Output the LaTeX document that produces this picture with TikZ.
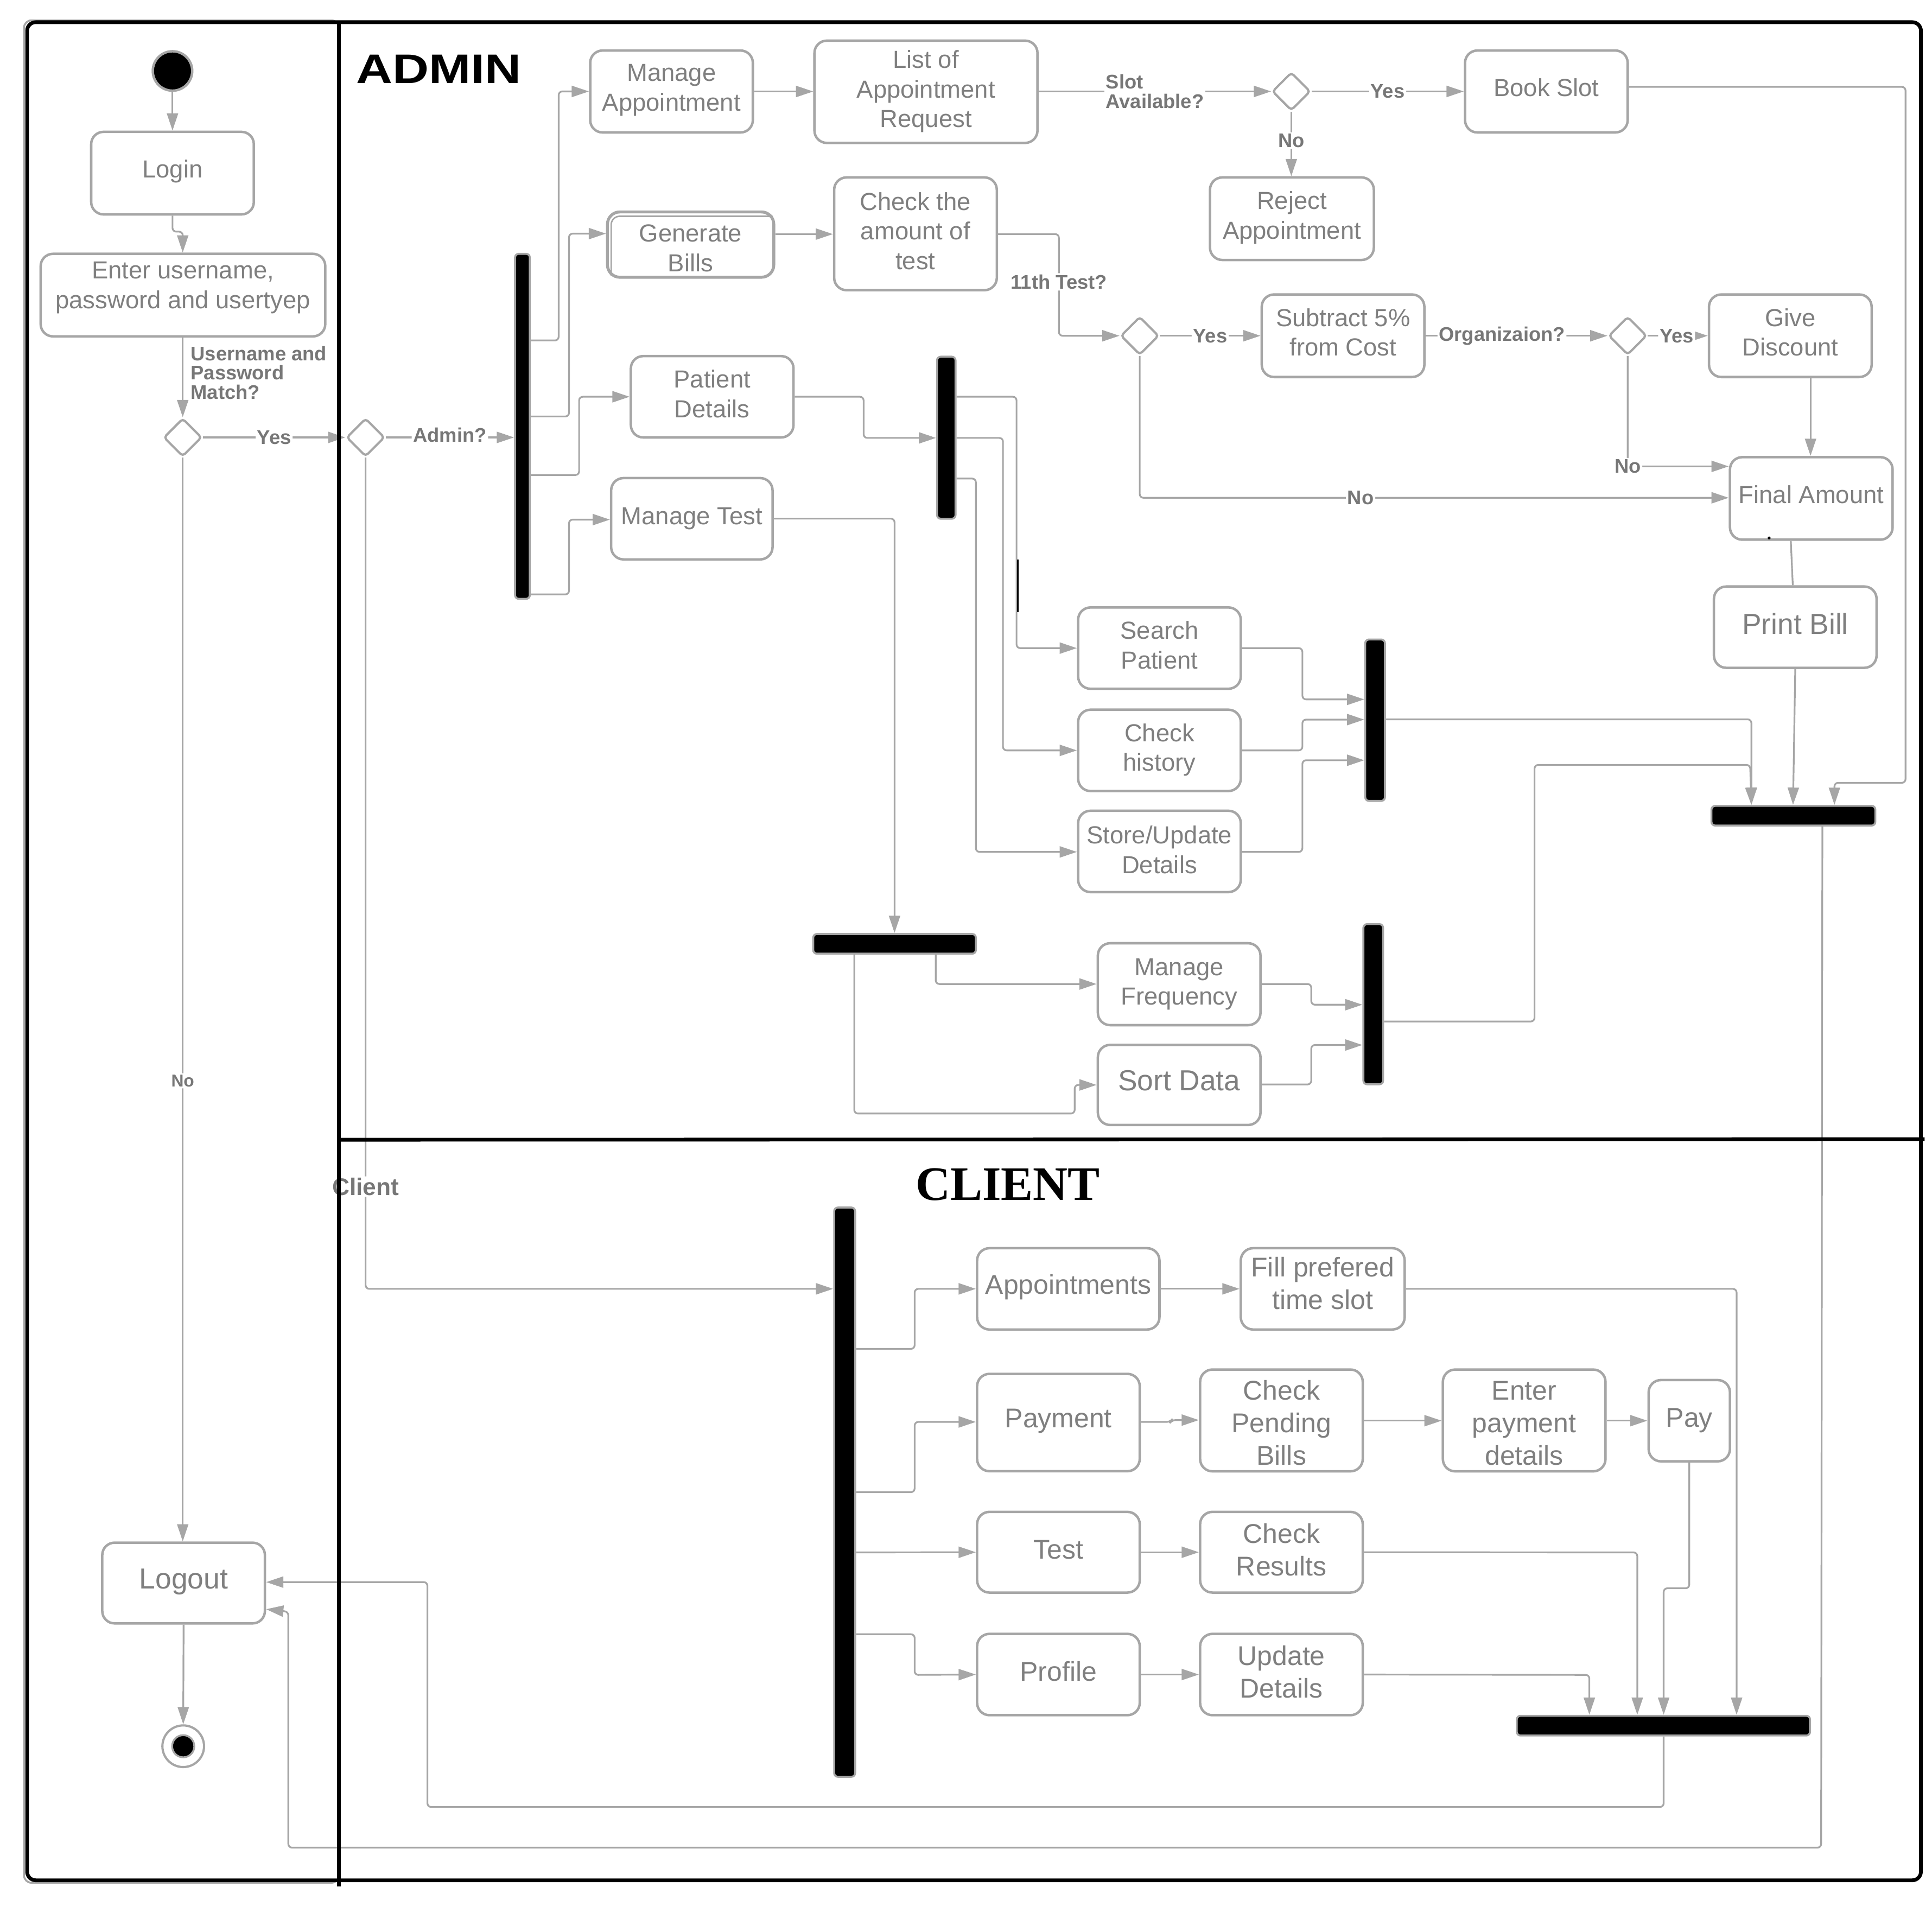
\documentclass[tikz,border=0pt]{standalone}
\usepackage{fontspec}
\setmainfont{Liberation Sans}
\newfontfamily\admintitle[FakeStretch=1.22]{Liberation Sans}
\newfontfamily\clienttitle{Liberation Serif}
\usetikzlibrary{arrows.meta,shapes.geometric,calc}

\definecolor{linegray}{HTML}{A6A6A6}
\definecolor{boxgray}{HTML}{A6A6A6}
\definecolor{txtgray}{HTML}{7F7F7F}
\definecolor{lblgray}{HTML}{777777}

% box text: centred lines, nudged vertically by the optional amount
\newcommand{\bt}[2][0pt]{\raisebox{#1}[\height][\depth]{\begin{tabular}{@{}c@{}}#2\end{tabular}}}

\begin{document}
\begin{tikzpicture}[x=1pt,y=-1pt,
  box/.style={draw=boxgray, line width=2pt, rounded corners=10pt, text=txtgray,
    align=center, inner sep=0pt, font=\fontsize{20}{24}\selectfont},
  bigbox/.style={box, font=\fontsize{23.5}{28}\selectfont},
  cbox/.style={box, font=\fontsize{22}{26.4}\selectfont},
  bar/.style={draw=boxgray, fill=black, line width=1.6pt, rounded corners=3pt, inner sep=0pt},
  dec/.style={diamond, draw=boxgray, line width=1.8pt, fill=white, inner sep=0pt,
    minimum width=31pt, minimum height=31pt, rounded corners=2.5pt},
  conn/.style={draw=linegray, line width=1.4pt, rounded corners=3pt,
    -{Triangle[length=14pt,width=9pt]}},
  plain/.style={draw=linegray, line width=1.4pt},
  lbl/.style={fill=white, text=lblgray, font=\bfseries\fontsize{16}{15.7}\selectfont,
    inner sep=1.2pt, align=left},
  clbl/.style={lbl, font=\bfseries\fontsize{19.5}{22}\selectfont},
]
\useasboundingbox (0,0) rectangle (1568,1557.4);
\fill[white] (0,0) rectangle (1568,1557.4);

% ---------- lane outlines ----------
\draw[boxgray, line width=1.5pt, rounded corners=6pt] (19.5,16.5) rectangle (275,1528);

% ---------- start / login lane ----------
\node[circle, fill=black, draw=boxgray, line width=2pt, minimum size=32pt, inner sep=0pt] (start) at (140,57.6) {};
\node[box, minimum width=132pt, minimum height=67pt] (login) at (140,140.5) {\bt[1pt]{Login}};
\node[box, minimum width=231pt, minimum height=67pt] (enter) at (148.5,239.5) {\bt[6pt]{Enter username,\\password and usertyep}};
\node[dec] (d1) at (148.3,355) {};
\node[dec] (d2) at (296.7,355) {};
\node[bigbox, minimum width=132pt, minimum height=65.5pt] (logout) at (149,1284.75) {\bt[1pt]{Logout}};
\node[circle, draw=boxgray, line width=1.8pt, minimum size=33.8pt, inner sep=0pt] (endc) at (148.7,1417.2) {};
\node[circle, fill=black, draw=boxgray, line width=1.5pt, minimum size=18pt, inner sep=0pt] at (endc) {};

% ---------- admin activities ----------
\node[bar, minimum width=12pt, minimum height=280pt] (bar1) at (424,346) {};
\node[box, minimum width=132pt, minimum height=66.5pt] (manappt) at (545,74.25) {\bt[1pt]{Manage\\Appointment}};
\node[box, minimum width=181pt, minimum height=83pt] (listreq) at (751.5,74.5) {\bt{List of\\Appointment\\Request}};
\node[dec] (d3) at (1048,74.2) {};
\node[box, minimum width=132pt, minimum height=66.5pt] (bookslot) at (1255,74.25) {\bt[1pt]{Book Slot}};
\node[box, minimum width=133pt, minimum height=67pt] (reject) at (1048.5,177.5) {\bt[0.5pt]{Reject\\Appointment}};

\node[box, minimum width=135pt, minimum height=53pt, line width=2.4pt] (genbills) at (560.5,198.5) {\bt[-5pt]{Generate\\Bills}};
\draw[boxgray, line width=1.2pt, rounded corners=7pt] (496,224) -- (496,175.5) -- (627,175.5);
\node[box, minimum width=132pt, minimum height=91.5pt] (checkamt) at (743,189.75) {\bt{Check the\\amount of\\test}};
\node[dec] (d4) at (925,272.5) {};
\node[box, minimum width=132pt, minimum height=67pt] (subtract) at (1090,272.5) {\bt[0.5pt]{Subtract 5\%\\from Cost}};
\node[dec] (d5) at (1321,272.5) {};
\node[box, minimum width=132pt, minimum height=67pt] (givedisc) at (1453,272.5) {\bt[0.5pt]{Give\\Discount}};
\node[box, minimum width=132pt, minimum height=67pt] (final) at (1470,404.5) {\bt[1pt]{Final Amount}};
\node[bigbox, minimum width=132pt, minimum height=66pt] (printbill) at (1457,509) {\bt{Print Bill}};
\node[bar, minimum width=133pt, minimum height=16pt] (bar3) at (1455.5,662) {};

\node[box, minimum width=132pt, minimum height=66pt] (patdet) at (578,322) {\bt{Patient\\Details}};
\node[bar, minimum width=15pt, minimum height=131.5pt] (bar2) at (768,355.25) {};
\node[box, minimum width=131pt, minimum height=66pt] (mantest) at (561.5,421) {\bt{Manage Test}};
\node[box, minimum width=132pt, minimum height=66pt] (search) at (941,526) {\bt{Search\\Patient}};
\node[box, minimum width=132pt, minimum height=66pt] (history) at (941,609) {\bt{Check\\history}};
\node[box, minimum width=132pt, minimum height=66pt] (store) at (941,691) {\bt[-1pt]{Store/Update\\Details}};
\node[bar, minimum width=16pt, minimum height=131pt] (bar4) at (1116,584.5) {};

\node[bar, minimum width=132pt, minimum height=16pt] (bar6) at (726,766) {};
\node[box, minimum width=132pt, minimum height=66.5pt] (manfreq) at (957,798.75) {\bt{Manage\\Frequency}};
\node[bigbox, minimum width=132pt, minimum height=65pt] (sortdata) at (957,880.5) {\bt[1pt]{Sort Data}};
\node[bar, minimum width=16pt, minimum height=130pt] (bar5) at (1114.5,815) {};

% ---------- client activities ----------
\node[bar, minimum width=17pt, minimum height=462pt] (bar7) at (685.5,1211) {};
\node[cbox, minimum width=148pt, minimum height=66pt] (appts) at (867,1046) {\bt[1pt]{Appointments}};
\node[cbox, minimum width=133pt, minimum height=66pt] (fill) at (1073.5,1046) {\bt[2pt]{Fill prefered\\time slot}};
\node[cbox, minimum width=132pt, minimum height=79pt] (payment) at (859,1154.5) {\bt[1pt]{Payment}};
\node[cbox, minimum width=132pt, minimum height=82.6pt] (pending) at (1040,1152.8) {\bt[-4.5pt]{Check\\Pending\\Bills}};
\node[cbox, minimum width=132pt, minimum height=82.6pt] (enterpay) at (1237,1152.8) {\bt[-4.5pt]{Enter\\payment\\details}};
\node[cbox, minimum width=66pt, minimum height=66pt] (pay) at (1371,1153) {\bt{Pay}};
\node[cbox, minimum width=132pt, minimum height=65.5pt] (test) at (859,1259.75) {\bt{Test}};
\node[cbox, minimum width=132pt, minimum height=65.5pt] (results) at (1040,1259.75) {\bt[-0.5pt]{Check\\Results}};
\node[cbox, minimum width=132pt, minimum height=66pt] (profile) at (859,1359) {\bt{Profile}};
\node[cbox, minimum width=132pt, minimum height=66pt] (update) at (1040,1359) {\bt[-0.5pt]{Update\\Details}};
\node[bar, minimum width=238pt, minimum height=16pt] (bar8) at (1350,1400.5) {};

% ---------- connectors: login lane ----------
\draw[conn] (start.south) -- (login.north);
\draw[conn] (login.south) -- (140,188) -- (148.3,188) -- (148.3,0 |- enter.north);
\draw[conn] (enter.south -| d1) -- (d1.north);
\node[lbl, fill=none, anchor=north west] (matchlbl) at (153.5,279.5) {Username and\\Password\\Match?};
\draw[conn] (d1.east) -- node[lbl]{Yes} (d2.west);
\draw[conn] (d2.east) -- node[lbl, yshift=2pt]{Admin?} (bar1.west |- d2);
\draw[conn] (d1.south) -- node[lbl, font=\bfseries\fontsize{14}{15}\selectfont, pos=0.575]{No} (logout.north -| d1);
\draw[conn] (d2.south) -- node[clbl, pos=0.877]{Client} (296.7,1046) -- (bar7.west |- 0,1046);
\draw[conn] (logout.south) -- (endc.north);

% ---------- connectors: admin ----------
\draw[conn] (bar1.east |- 0,276.3) -- (453.4,276.3) -- (453.4,74.2) -- (manappt.west |- 0,74.2);
\draw[conn] (bar1.east |- 0,338) -- (461.8,338) -- (461.8,189.6) -- (genbills.west |- 0,189.6);
\draw[conn] (bar1.east |- 0,385.5) -- (470,385.5) -- (470,322) -- (patdet.west);
\draw[conn] (bar1.east |- 0,482.4) -- (461.8,482.4) -- (461.8,421.7) -- (mantest.west |- 0,421.7);

\draw[conn] (manappt.east) -- (listreq.west |- manappt.east);
\draw[conn] (listreq.east |- d3) -- node[lbl]{Slot\\Available?} (d3.west);
\draw[conn] (d3.east) -- node[lbl]{Yes} (bookslot.west |- d3);
\draw[conn] (d3.south) -- node[lbl, pos=0.45]{No} (reject.north -| d3);
\draw[conn] (bookslot.east |- 0,70.5) -- (1546.5,70.5) -- (1546.5,635.3) -- (1488.8,635.3) -- (1488.8,0 |- bar3.north);

\draw[conn] (genbills.east |- 0,190) -- (checkamt.west |- 0,190);
\draw[conn] (checkamt.east |- 0,190) -- (859.4,190) -- node[lbl, pos=0.47]{11th Test?} (859.4,272.5) -- (d4.west);
\draw[conn] (d4.east) -- node[lbl]{Yes} (subtract.west);
\draw[conn] (d4.south) -- (925,404) -- node[lbl, pos=0.375]{No} (final.west |- 0,404);
\draw[conn] (subtract.east) -- node[lbl, pos=0.42]{Organizaion?} (d5.west);
\draw[conn] (d5.east) -- node[lbl, pos=0.48]{Yes} (givedisc.west);
\draw[conn] (d5.south) -- (1321,378.5) node[lbl]{No} -- (final.west |- 0,378.5);
\draw[conn] (1469.4,0 |- givedisc.south) -- (1469.4,0 |- final.north);
\draw[plain] (1453.4,0 |- final.south) -- (1455,0 |- printbill.north);
\fill[black] (1435.8,436.6) circle (1.2);
\draw[conn] (1457,0 |- printbill.south) -- (1455.2,0 |- bar3.north);

\draw[conn] (patdet.east) -- (700.9,322) -- (700.9,355.4) -- (bar2.west |- 0,355.4);
\draw[conn] (bar2.east |- 0,322) -- (825,322) -- (825,526) -- (search.west);
\draw[conn] (bar2.east |- 0,355.4) -- (814,355.4) -- (814,609) -- (history.west);
\draw[conn] (bar2.east |- 0,388.4) -- (792,388.4) -- (792,691.4) -- (store.west |- 0,691.4);
\draw[black, line width=1.6pt] (826,454) -- (826,497);
\draw[conn] (search.east) -- (1057,526) -- (1057,567.6) -- (bar4.west |- 0,567.6);
\draw[conn] (history.east) -- (1057,609) -- (1057,584) -- (bar4.west |- 0,584);
\draw[conn] (store.east |- 0,691.4) -- (1057,691.4) -- (1057,617) -- (bar4.west |- 0,617);
\draw[conn] (bar4.east |- 0,583.8) -- (1421.4,583.8) -- (1421.4,0 |- bar3.north);

\draw[conn] (mantest.east |- 0,420.9) -- (726,420.9) -- (bar6.north);
\draw[conn] (759.4,0 |- bar6.south) -- (759.4,798.6) -- (manfreq.west |- 0,798.6);
\draw[conn] (693.3,0 |- bar6.south) -- (693.3,903.7) -- (872.2,903.7) -- (872.2,880.5) -- (sortdata.west);
\draw[conn] (manfreq.east |- 0,798.6) -- (1064.2,798.6) -- (1064.2,815.4) -- (bar5.west |- 0,815.4);
\draw[conn] (sortdata.east |- 0,880.1) -- (1064.2,880.1) -- (1064.2,848.1) -- (bar5.west |- 0,848.1);
\draw[conn] (bar5.east |- 0,829) -- (1245.4,829) -- (1245.4,620.8) -- (1420.4,620.8) -- (1421.4,0 |- bar3.north);

\draw[conn] (1479,0 |- bar3.south) -- (1478,1499.5) -- (234,1499.5) -- (234,1308) -- (logout.east |- 0,1306);

% ---------- connectors: client ----------
\draw[conn] (bar7.east |- 0,1094.7) -- (742.3,1094.7) -- (742.3,1046) -- (appts.west);
\draw[conn] (bar7.east |- 0,1211) -- (742.3,1211) -- (742.3,1154) -- (payment.west |- 0,1154);
\draw[conn] (bar7.east |- 0,1259.9) -- (test.west);
\draw[conn] (bar7.east |- 0,1326.3) -- (742.3,1326.3) -- (742.3,1359.3) -- (profile.west);
\draw[conn] (appts.east) -- (fill.west);
\draw[conn] (payment.east |- 0,1154) -- (950,1154) -- (951,1152.5) -- (pending.west |- 0,1152.5);
\draw[conn] (pending.east |- 0,1153) -- (enterpay.west |- 0,1153);
\draw[conn] (enterpay.east |- 0,1153) -- (pay.west |- 0,1153);
\draw[conn] (test.east) -- (results.west);
\draw[conn] (profile.east) -- (update.west);
\draw[conn] (fill.east) -- (1409.4,1046) -- (1409.4,0 |- bar8.north);
\draw[conn] (pay.south) -- (1371,1289) -- (1350.2,1289) -- (1350.2,0 |- bar8.north);
\draw[conn] (results.east) -- (1328.8,1259.9) -- (1328.8,0 |- bar8.north);
\draw[conn] (update.east) -- (1289.9,1359.3) -- (1289.9,0 |- bar8.north);
\draw[conn] (1350.2,0 |- bar8.south) -- (1350.2,1466.5) -- (346.9,1466.5) -- (346.9,1284) -- (logout.east |- 0,1284);

% ---------- swimlane frame and titles ----------
\draw[black, line width=3pt, rounded corners=7pt] (22,18) rectangle (1559,1526);
\draw[black, line width=3pt] (275,17) -- (275,1531);
\draw[black, line width=3pt] (275,925) -- (1562,924.5);
\node[anchor=base west, inner sep=0pt, font=\admintitle\bfseries\fontsize{33.5}{36}\selectfont] (admintitle) at (289,67.5) {ADMIN};
\node[anchor=base west, inner sep=0pt, font=\clienttitle\bfseries\fontsize{39}{42}\selectfont] (clienttitle) at (743,974) {CLIENT};
\end{tikzpicture}
\end{document}
